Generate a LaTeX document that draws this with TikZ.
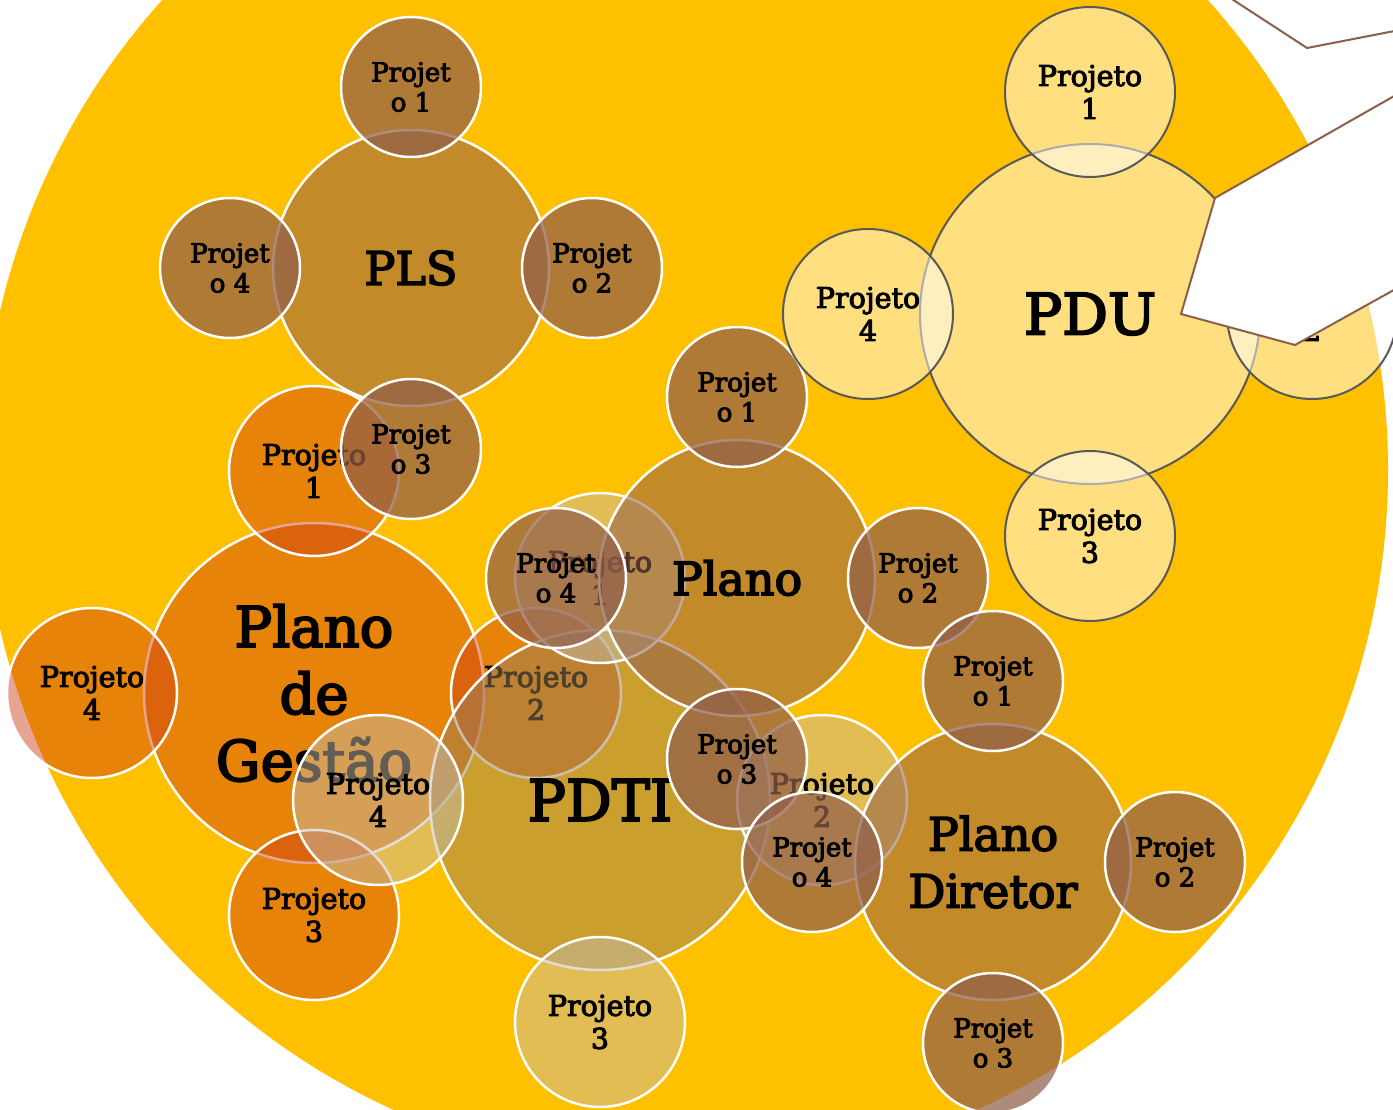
\documentclass[tikz,border=0pt]{standalone}
\usepackage{fontspec}
\setmainfont{DejaVu Serif}[BoldFont={DejaVu Serif}, BoldFeatures={FakeBold=3.5}]
\definecolor{yel}{RGB}{255,192,0}
\definecolor{brn}{RGB}{145,95,74}
\definecolor{orn}{RGB}{206,63,21}
\definecolor{ptm}{RGB}{150,128,92}
\definecolor{ptc}{RGB}{196,188,168}
\definecolor{pdl}{RGB}{89,89,89}
\definecolor{arrc}{RGB}{140,95,75}
\tikzset{
  bub/.style={circle, inner sep=0pt, outer sep=0pt, draw=white, line width=2.5pt, text=black, align=center},
  fbig/.style={font=\bfseries\fontsize{57}{70}\selectfont},
  fpg/.style={font=\bfseries\fontsize{56}{67}\selectfont},
  fmid/.style={font=\bfseries\fontsize{46}{57}\selectfont},
  fk85/.style={font=\bfseries\fontsize{28.5}{33}\selectfont},
  fk70/.style={font=\bfseries\fontsize{26}{30}\selectfont},
  brmain/.style={bub, fill=brn, fill opacity=0.55, minimum size=276pt, fmid, text opacity=1},
  brkid/.style={bub, fill=brn, fill opacity=0.72, minimum size=140pt, fk70, text opacity=1},
  ormain/.style={bub, fill=orn, fill opacity=0.47, minimum size=340pt, fpg, text opacity=1},
  orkid/.style={bub, fill=orn, fill opacity=0.47, minimum size=170pt, fk85, text opacity=1},
  ptmain/.style={bub, fill=ptm, fill opacity=0.5, minimum size=340pt, fbig, text opacity=1},
  ptkid/.style={bub, fill=ptc, fill opacity=0.5, minimum size=170pt, fk85, text opacity=1},
  pdmain/.style={bub, draw=pdl, line width=2pt, fill=white, fill opacity=0.5, minimum size=340pt, fbig, text opacity=1},
  pdkid/.style={bub, draw=pdl, line width=2pt, fill=white, fill opacity=0.5, minimum size=170pt, fk85, text opacity=1},
  arrshape/.style={fill=white, draw=arrc, line width=2pt, line join=miter}
}
\begin{document}
\begin{tikzpicture}[x=1pt,y=-1pt]
\useasboundingbox (0,0) rectangle (1393,1110);
\clip (0,0) rectangle (1393,1110);
\fill[white] (0,0) rectangle (1393,1110);
\fill[yel] (685,470) circle[radius=703pt];
% Plano de Gestao
\node[ormain] (pg) at (314,693) {Plano\\de\\Gestão};
\node[orkid] (pg1) at (314,471) {Projeto\\1};
\node[orkid] (pg2) at (536,693) {Projeto\\2};
\node[orkid] (pg3) at (314,915) {Projeto\\3};
\node[orkid] (pg4) at (92,693) {Projeto\\4};
% PLS
\node[brmain] (pls) at (411,268) {PLS};
\node[brkid] (pls1) at (411,87) {Projet\\o 1};
\node[brkid] (pls2) at (592,268) {Projet\\o 2};
\node[brkid] (pls3) at (411,449) {Projet\\o 3};
\node[brkid] (pls4) at (230,268) {Projet\\o 4};
% PDTI
\node[ptmain] (pdti) at (600,800) {PDTI};
\node[ptkid] (pdti1) at (600,578) {Projeto\\1};
\node[ptkid] (pdti2) at (822,800) {Projeto\\2};
\node[ptkid] (pdti3) at (600,1022) {Projeto\\3};
\node[ptkid] (pdti4) at (378,800) {Projeto\\4};
% Plano
\node[brmain] (pl) at (737,578) {Plano};
\node[brkid] (pl1) at (737,397) {Projet\\o 1};
\node[brkid] (pl2) at (918,578) {Projet\\o 2};
\node[brkid] (pl3) at (737,759) {Projet\\o 3};
\node[brkid] (pl4) at (556,578) {Projet\\o 4};
% Plano Diretor
\node[brmain] (pd) at (993,862) {Plano\\Diretor};
\node[brkid] (pd1) at (993,681) {Projet\\o 1};
\node[brkid] (pd2) at (1175,862) {Projet\\o 2};
\node[brkid] (pd3) at (993,1043) {Projet\\o 3};
\node[brkid] (pd4) at (812,862) {Projet\\o 4};
% PDU
\node[pdmain] (pdu) at (1090,314) {PDU};
\node[pdkid] (pdu1) at (1090,92) {Projeto\\1};
\node[pdkid] (pdu2) at (1312,314) {Projeto\\2};
\node[pdkid] (pdu3) at (1090,536) {Projeto\\3};
\node[pdkid] (pdu4) at (868,314) {Projeto\\4};
% callout arrows
\draw[arrshape] (1218,-10) -- (1307,48) -- (1410,28) -- (1410,-10) -- cycle;
\draw[arrshape] (1410,87) -- (1215,198) -- (1181,314) -- (1295,345) -- (1410,281) -- cycle;
\end{tikzpicture}
\end{document}
